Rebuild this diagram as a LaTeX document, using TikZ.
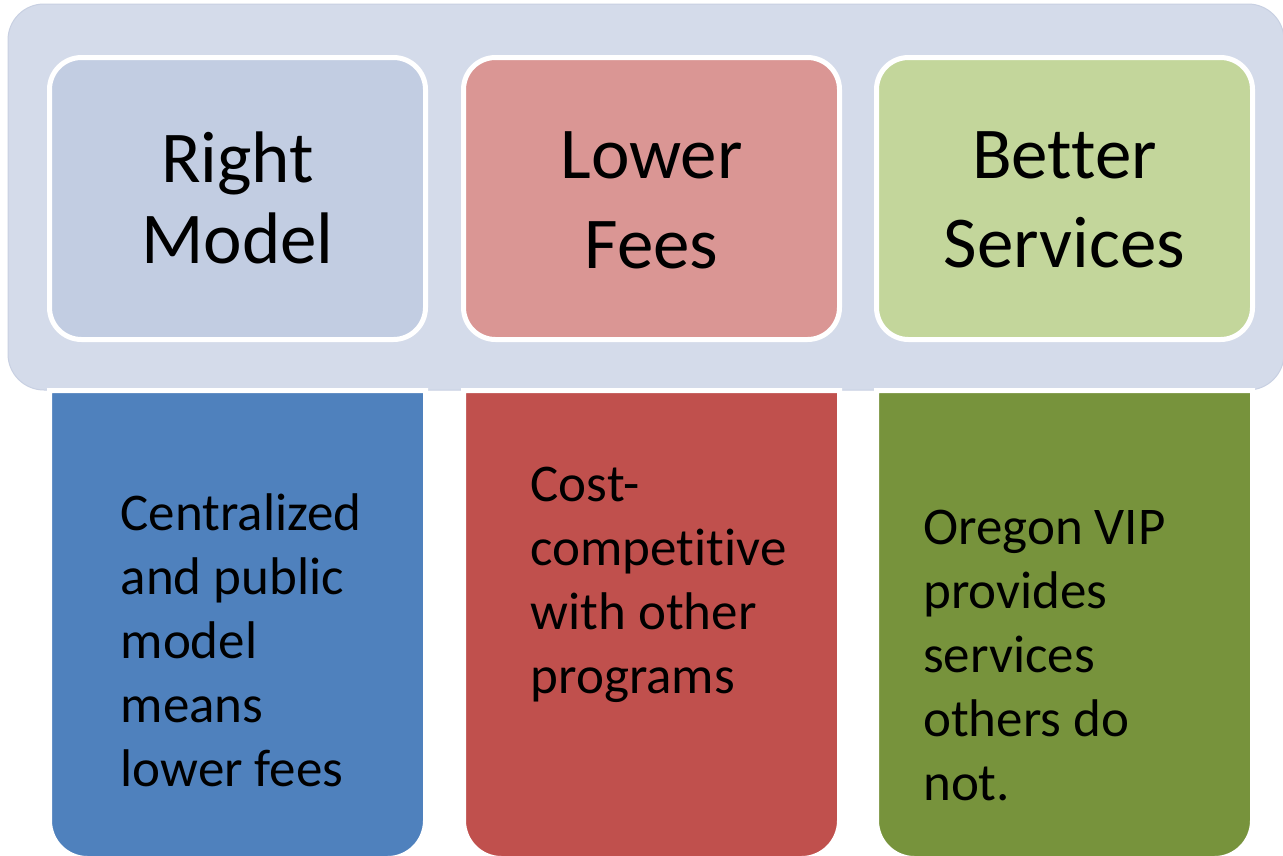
\documentclass[tikz,border=0pt]{standalone}
\usepackage{fontspec}
\setmainfont{Carlito}[Ligatures={NoCommon}]
\definecolor{bandc}{RGB}{212,219,234}
\definecolor{bandedge}{RGB}{200,208,226}
\definecolor{topblue}{RGB}{194,205,226}
\definecolor{toppink}{RGB}{218,150,148}
\definecolor{topgreen}{RGB}{195,214,155}
\definecolor{botblue}{RGB}{79,129,189}
\definecolor{botred}{RGB}{192,80,77}
\definecolor{botgreen}{RGB}{119,147,60}
\tikzset{
  topbox/.style={draw=white, line width=5pt, rounded corners=32pt},
  botbox/.style={draw=white, line width=5pt},
  titletext/.style={inner sep=0pt, anchor=base, font=\fontsize{73}{73}\selectfont},
  bodytext/.style={inner sep=0pt, anchor=base west, font=\fontsize{53}{64}\selectfont}
}
\begin{document}
\begin{tikzpicture}[x=1pt,y=-1pt]
\useasboundingbox (0,0) rectangle (1283,855);
\clip (0,0) rectangle (1283,855);
\fill[white] (0,0) rectangle (1283,855);
% band
\draw[fill=bandc, draw=bandedge, line width=1pt, rounded corners=36pt] (8,4) rectangle (1284,390);
% top boxes
\draw[topbox, fill=topblue] (49.5,57.5) rectangle (425.5,339.5);
\draw[topbox, fill=toppink] (463.5,57.5) rectangle (839.5,339.5);
\draw[topbox, fill=topgreen] (876.5,57.5) rectangle (1252.5,339.5);
% bottom boxes (square top, rounded bottom)
\draw[botbox, fill=botblue] (49.5,390.5) -- (425.5,390.5) [rounded corners=38pt] -- (425.5,858.5) -- (49.5,858.5) [sharp corners] -- cycle;
\draw[botbox, fill=botred] (463.5,390.5) -- (839.5,390.5) [rounded corners=38pt] -- (839.5,858.5) -- (463.5,858.5) [sharp corners] -- cycle;
\draw[botbox, fill=botgreen] (876.5,390.5) -- (1252.5,390.5) [rounded corners=38pt] -- (1252.5,858.5) -- (876.5,858.5) [sharp corners] -- cycle;
% titles
\node[titletext] (t1) at (237.5,182) {\parbox[t]{360pt}{\centering\fontsize{73}{81}\selectfont Right\\Model}};
\node[titletext] (t2) at (651.5,178) {\parbox[t]{360pt}{\centering\fontsize{73}{90}\selectfont Lower\\Fees}};
\node[titletext] (t3) at (1064.5,178) {\parbox[t]{360pt}{\centering\fontsize{73}{89}\selectfont Better\\Services}};
% body texts
\node[bodytext] (b1) at (120.5,530.5) {\parbox[t]{300pt}{\raggedright\fontsize{53}{64}\selectfont Centralized\\and public\\model\\means\\lower fees}};
\node[bodytext] (b2) at (530.5,501) {\parbox[t]{300pt}{\raggedright\fontsize{53}{64}\selectfont Cost-\\competitive\\with other\\programs}};
\node[bodytext] (b3) at (923,544) {\parbox[t]{300pt}{\raggedright\fontsize{53}{64}\selectfont Oregon VIP\\provides\\services\\others do\\not.}};
\end{tikzpicture}
\end{document}
